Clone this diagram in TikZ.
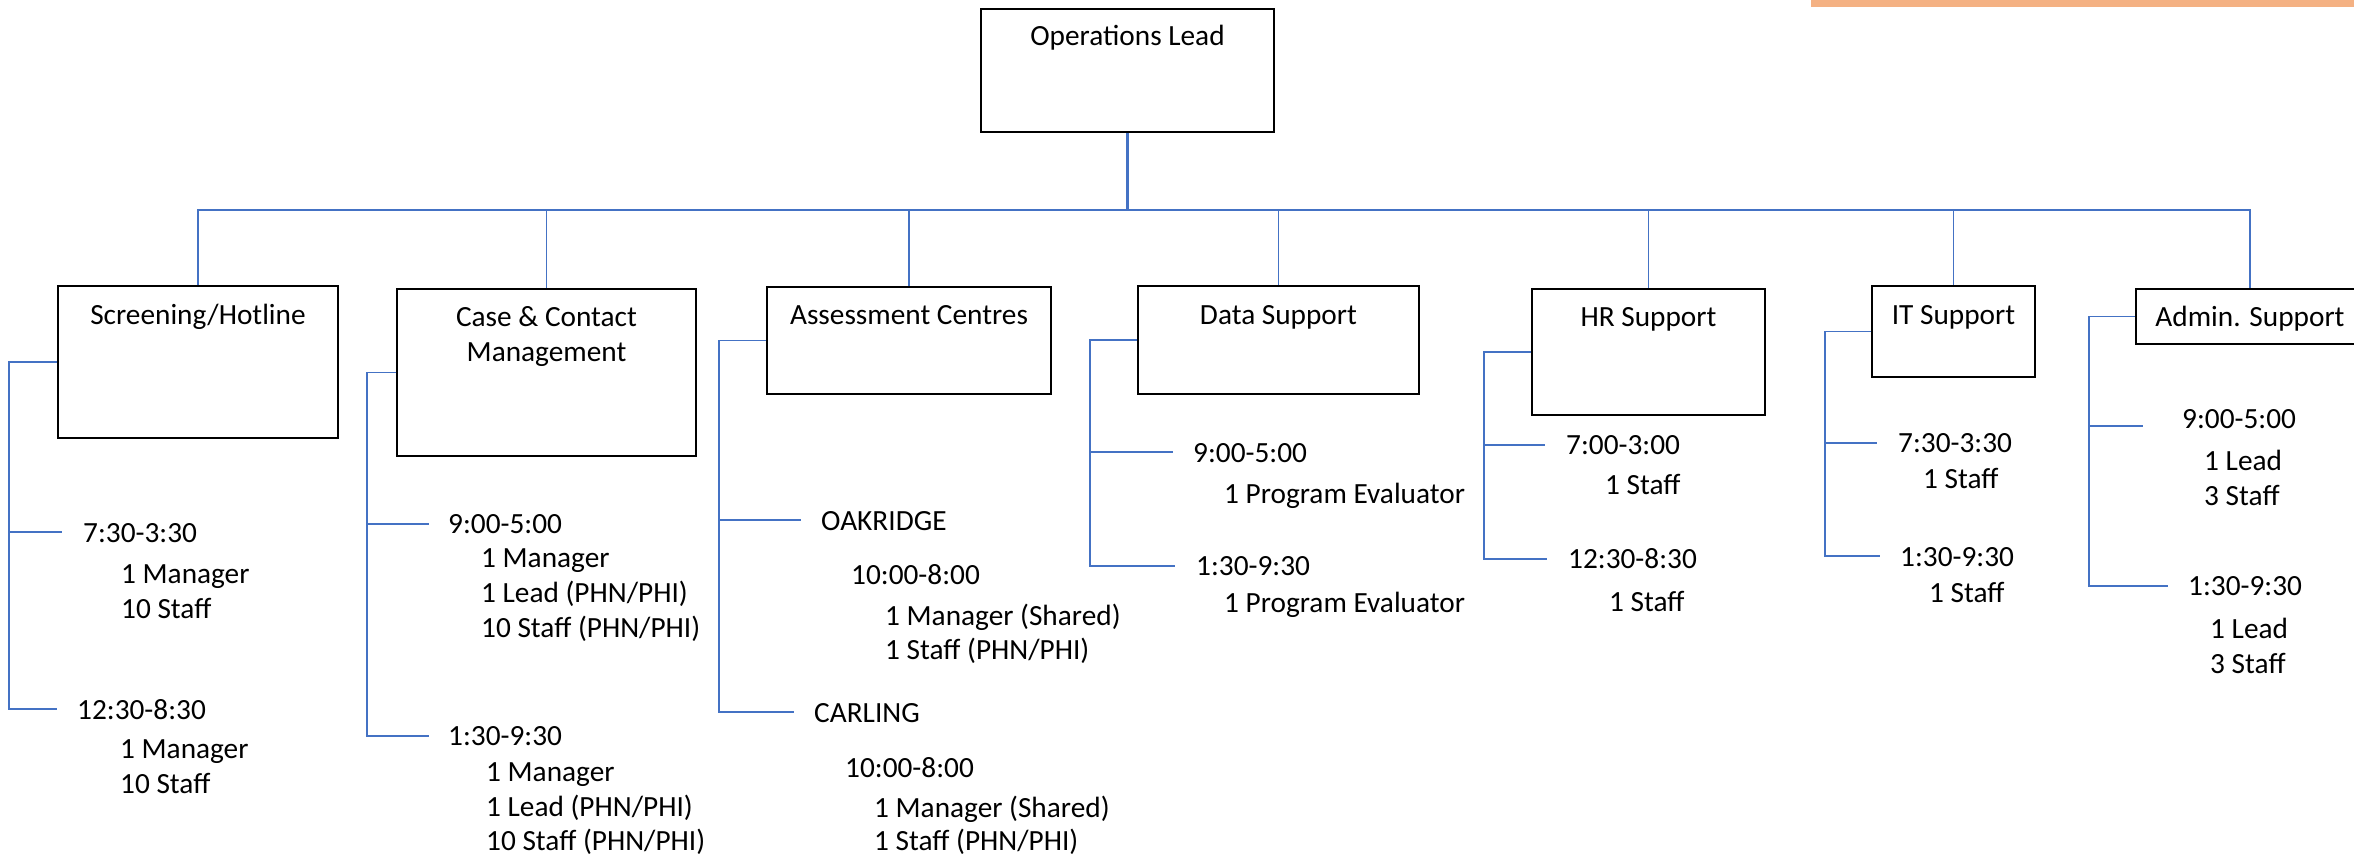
\documentclass[tikz,border=0pt]{standalone}
\usepackage{fontspec}
\setmainfont{Carlito}
\definecolor{lnblue}{RGB}{68,114,196}
\definecolor{barorange}{RGB}{244,177,131}
\begin{document}
\begin{tikzpicture}[x=1pt,y=-1pt,
  box/.style={draw=black,line width=1.6pt,inner sep=0pt,fill=none},
  boxb/.style={box,line width=2.6pt},
  txt/.style={anchor=base west,inner sep=0pt,font=\fontsize{29.3}{35}\selectfont},
  ttl/.style={anchor=base,inner sep=0pt,font=\fontsize{29.3}{35}\selectfont},
  conn/.style={draw=lnblue,line width=1.8pt},
  connb/.style={draw=lnblue,line width=2.6pt}]
\fill[white] (0,0) rectangle (2354,856);
\path[use as bounding box, clip] (0,0) rectangle (2354,856);
% orange bar
\fill[barorange] (1811,0) rectangle (2354,7);

% boxes
\node[box,minimum width=293pt,minimum height=123pt] (ops) at (1127.5,70.5) {};
\node[box,minimum width=280pt,minimum height=152pt] (scr) at (198,362) {};
\node[box,minimum width=299pt,minimum height=167pt] (cas) at (546.5,372.5) {};
\node[box,minimum width=284pt,minimum height=107pt] (ass) at (909,340.5) {};
\node[box,minimum width=281pt,minimum height=108pt] (dat) at (1278.5,340) {};
\node[boxb,minimum width=233pt,minimum height=126pt] (hr) at (1648.5,352) {};
\node[boxb,minimum width=163pt,minimum height=91pt] (it) at (1953.5,331.5) {};
\node[boxb,minimum width=228pt,minimum height=55pt] (adm) at (2250,316.5) {};

% titles
\node[ttl] (tops) at (1127.5,46) {Operations Lead};
\node[ttl] (tscr) at (198,324) {Screening/Hotline};
\node[ttl] (tcas1) at (546.5,326) {Case \& Contact};
\node[ttl] (tcas2) at (546.5,361) {Management};
\node[ttl] (tass) at (909,324) {Assessment Centres};
\node[ttl] (tdat) at (1278.5,324) {Data Support};
\node[ttl] (thr) at (1648.5,326) {HR Support};
\node[ttl] (tit) at (1953.5,324) {IT Support};
\node[ttl] (tadm) at (2250,326) {Admin. Support};

% bus
\coordinate (busR) at (2250,210);
\coordinate (busM) at (1953.5,210);
\draw[connb] (ops.south) -- (ops.south |- busR);
\draw[conn] (scr.north) |- (cas.north |- busR);
\draw[connb] (cas.north |- busR) -- (busM);
\draw[conn] (busM) -- (busR) -- (adm.north);
\foreach \n in {cas,ass,dat,hr,it} \draw[conn] (\n.north) -- (\n.north |- busR);

% Screening/Hotline
\node[txt] (s1) at (83,542) {7:30-3:30};
\node[txt] (s1a) at (121,583) {1 Manager};
\node[txt] (s1b) at (121,618) {10 Staff};
\node[txt] (s2) at (77,719) {12:30-8:30};
\node[txt] (s2a) at (120,758) {1 Manager};
\node[txt] (s2b) at (120,793) {10 Staff};
\coordinate (s1j) at (9,532); \coordinate (s1e) at (62,532);
\coordinate (s2j) at (9,709); \coordinate (s2e) at (57,709);
\draw[conn] (scr.west) -| (s2j) -- (s2e);
\draw[conn] (s1j) -- (s1e);

% Case & Contact
\node[txt] (c1) at (448,533) {9:00-5:00};
\node[txt] (c1a) at (481,567) {1 Manager};
\node[txt] (c1b) at (481,602) {1 Lead (PHN/PHI)};
\node[txt] (c1c) at (481,637) {10 Staff (PHN/PHI)};
\node[txt] (c2) at (448,745) {1:30-9:30};
\node[txt] (c2a) at (486,781) {1 Manager};
\node[txt] (c2b) at (486,816) {1 Lead (PHN/PHI)};
\node[txt] (c2c) at (486,850) {10 Staff (PHN/PHI)};
\coordinate (c1j) at (367,524); \coordinate (c1e) at (429,524);
\coordinate (c2j) at (367,736); \coordinate (c2e) at (429,736);
\draw[conn] (cas.west) -| (c2j) -- (c2e);
\draw[conn] (c1j) -- (c1e);

% Assessment Centres
\node[txt] (a1) at (821,530) {OAKRIDGE};
\node[txt] (a1a) at (851,584) {10:00-8:00};
\node[txt] (a1b) at (885,625) {1 Manager (Shared)};
\node[txt] (a1c) at (885,659) {1 Staff (PHN/PHI)};
\node[txt] (a2) at (814,722) {CARLING};
\node[txt] (a2a) at (845,777) {10:00-8:00};
\node[txt] (a2b) at (874,817) {1 Manager (Shared)};
\node[txt] (a2c) at (874,850) {1 Staff (PHN/PHI)};
\coordinate (a1j) at (719,520); \coordinate (a1e) at (801,520);
\coordinate (a2j) at (719,712); \coordinate (a2e) at (794,712);
\draw[conn] (ass.west) -| (a2j) -- (a2e);
\draw[conn] (a1j) -- (a1e);

% Data Support
\node[txt] (d1) at (1193,462) {9:00-5:00};
\node[txt] (d1a) at (1224,503) {1 Program Evaluator};
\node[txt] (d2) at (1196,575) {1:30-9:30};
\node[txt] (d2a) at (1224,612) {1 Program Evaluator};
\coordinate (d1j) at (1090,452); \coordinate (d1e) at (1173,452);
\coordinate (d2j) at (1090,566); \coordinate (d2e) at (1175,566);
\draw[conn] (dat.west) -| (d2j) -- (d2e);
\draw[conn] (d1j) -- (d1e);

% HR Support
\node[txt] (h1) at (1566,454) {7:00-3:00};
\node[txt] (h1a) at (1605,494) {1 Staff};
\node[txt] (h2) at (1568,568) {12:30-8:30};
\node[txt] (h2a) at (1609,611) {1 Staff};
\coordinate (h1j) at (1484,445); \coordinate (h1e) at (1545,445);
\coordinate (h2j) at (1484,559); \coordinate (h2e) at (1547,559);
\draw[conn] (hr.west) -| (h2j) -- (h2e);
\draw[conn] (h1j) -- (h1e);

% IT Support
\node[txt] (i1) at (1898,452) {7:30-3:30};
\node[txt] (i1a) at (1923,488) {1 Staff};
\node[txt] (i2) at (1900,566) {1:30-9:30};
\node[txt] (i2a) at (1929,602) {1 Staff};
\coordinate (i1j) at (1825,443); \coordinate (i1e) at (1877,443);
\coordinate (i2j) at (1825,556); \coordinate (i2e) at (1880,556);
\draw[conn] (it.west) -| (i2j) -- (i2e);
\draw[conn] (i1j) -- (i1e);

% Admin. Support
\node[txt] (m1) at (2182,428) {9:00-5:00};
\node[txt] (m1a) at (2204,470) {1 Lead};
\node[txt] (m1b) at (2204,505) {3 Staff};
\node[txt] (m2) at (2188,595) {1:30-9:30};
\node[txt] (m2a) at (2210,638) {1 Lead};
\node[txt] (m2b) at (2210,673) {3 Staff};
\coordinate (m1j) at (2089,426); \coordinate (m1e) at (2143,426);
\coordinate (m2j) at (2089,586); \coordinate (m2e) at (2168,586);
\draw[conn] (adm.west) -| (m2j) -- (m2e);
\draw[conn] (m1j) -- (m1e);
\end{tikzpicture}
\end{document}
